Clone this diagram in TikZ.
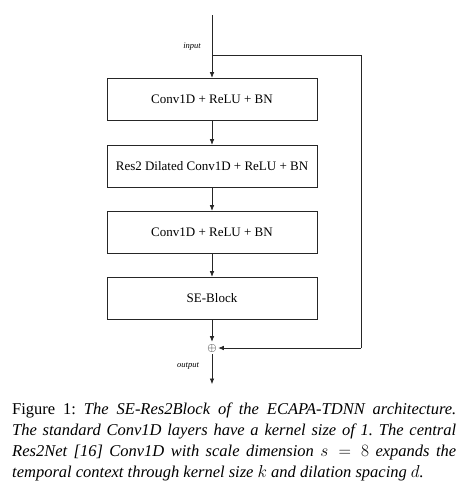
\documentclass[tikz,border=0pt]{standalone}
\usepackage{fontspec}
\setmainfont{Liberation Serif}
\usetikzlibrary{arrows.meta}
\frenchspacing
\begin{document}
\begin{tikzpicture}[x=1pt,y=-1pt,
  blk/.style={draw=black!85, line width=0.6pt, minimum width=210pt, minimum height=42pt, inner sep=0pt, font=\fontsize{13}{15}\selectfont},
  arr/.style={draw=black!85, line width=0.6pt, -{Latex[length=5.5pt,width=4.5pt]}},
  ln/.style={draw=black!85, line width=0.6pt},
  lbl/.style={font=\fontsize{8.5}{10}\selectfont\itshape, inner sep=0pt}]
\useasboundingbox (0,0) rectangle (475,504);
\fill[white] (0,0) rectangle (475,504);
\coordinate (top) at (212,15);
\coordinate (split) at (212,55);
\coordinate (rt) at (361,55);
\coordinate (rb) at (361,348);
\coordinate (out) at (212,384);
\node[blk] (b1) at (212,99) {Conv1D + ReLU + BN};
\node[blk] (b2) at (212,166) {Res2 Dilated Conv1D + ReLU + BN};
\node[blk] (b3) at (212,232) {Conv1D + ReLU + BN};
\node[blk] (b4) at (212,298) {SE-Block};
\node[circle, inner sep=0pt, minimum size=10pt, font=\fontsize{13}{13}\selectfont] (sum) at (212,348) {$\oplus$};
\node[lbl] (in) at (192,47) {input};
\node[lbl] (outl) at (188,366) {output};
\draw[arr] (top) -- (b1);
\draw[ln] (split) -- (rt) -- (rb);
\draw[arr] (rb) -- (sum);
\draw[arr] (b1) -- (b2);
\draw[arr] (b2) -- (b3);
\draw[arr] (b3) -- (b4);
\draw[arr] (b4) -- (sum);
\draw[arr] (sum) -- (out);
\node[anchor=north west, inner sep=0pt, text width=444pt, align=justify, font=\fontsize{16.5}{21}\selectfont] (cap) at (12,403)
{Figure 1: \textit{The SE-Res2Block of the ECAPA-TDNN architecture.\linebreak The standard Conv1D layers have a kernel size of 1. The central\linebreak Res2Net [16] Conv1D with scale dimension $s=8$ expands the\linebreak temporal context through kernel size $k$ and dilation spacing $d$.}};
\end{tikzpicture}
\end{document}
